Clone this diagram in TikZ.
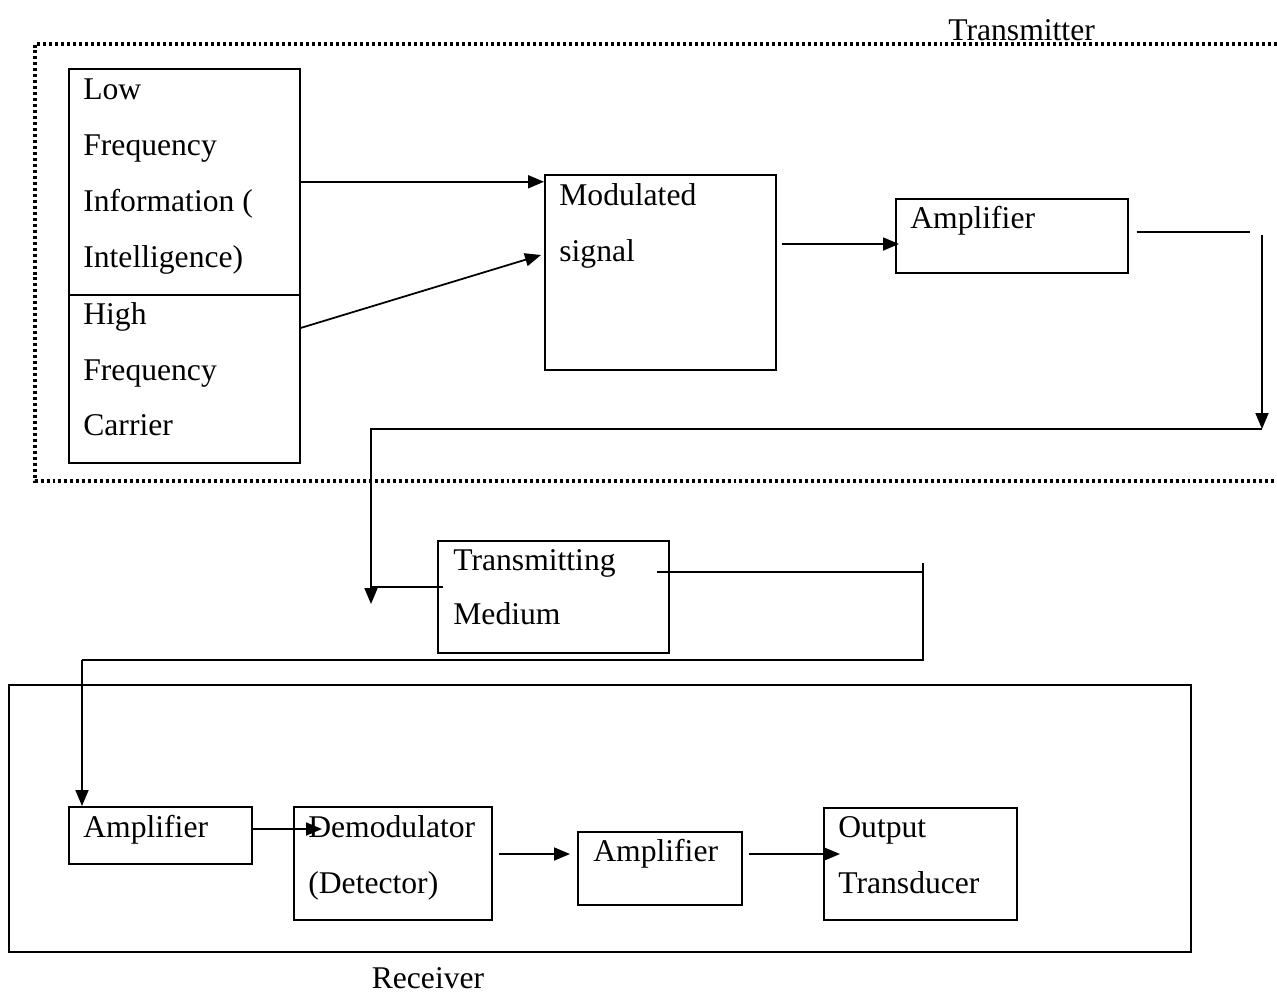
\documentclass[tikz,border=0pt]{standalone}
\usepackage{fontspec}
\setmainfont{Liberation Serif}
\usetikzlibrary{arrows.meta,calc}
\begin{document}
\begin{tikzpicture}[x=0.02cm,y=-0.02cm,
  blk/.style={draw,line width=0.9pt,rectangle,inner sep=0,anchor=north west},
  txt/.style={inner sep=0,anchor=base west,font=\fontsize{18}{22}\selectfont},
  wire/.style={line width=1pt},
  arr/.style={line width=1pt,-{Triangle[length=0.32cm,width=0.26cm]}},
  dotline/.style={line width=1.9pt,dash pattern=on 1.7pt off 1.7pt}]
\useasboundingbox (0,0) rectangle (1277,995);
% transmitter dotted frame
\coordinate (tTR) at (1277,44);
\coordinate (tTL) at (35,44);
\coordinate (tBL) at (35,481);
\coordinate (tBR) at (1277,481);
\draw[dotline] (tTR) -- (tTL) -- (tBL) -- (tBR);
\node[txt] (ttl) at (948,40) {Transmitter};
% blocks
\node[blk,minimum width=4.62cm,minimum height=4.52cm] (lf) at (68,68) {};
\node[blk,minimum width=4.62cm,minimum height=3.36cm] (hf) at (68,294) {};
\node[blk,minimum width=4.62cm,minimum height=3.90cm] (mod) at (544,174) {};
\node[blk,minimum width=4.64cm,minimum height=1.48cm] (amp1) at (895,198) {};
\node[blk,minimum width=4.62cm,minimum height=2.24cm] (med) at (437,540) {};
\node[blk,line width=1pt,minimum width=23.64cm,minimum height=5.34cm] (rx) at (8,684) {};
\node[blk,minimum width=3.66cm,minimum height=1.14cm] (amp2) at (68,806) {};
\node[blk,minimum width=3.96cm,minimum height=2.26cm] (demod) at (293,806) {};
\node[blk,minimum width=3.28cm,minimum height=1.46cm] (amp3) at (577,831) {};
\node[blk,minimum width=3.86cm,minimum height=2.24cm] (out) at (823,807) {};
% texts
\node[txt] (t1) at (83,99) {Low};
\node[txt] (t2) at (83,155) {Frequency};
\node[txt] (t3) at (83,211) {Information (};
\node[txt] (t4) at (83,267) {Intelligence)};
\node[txt] (t5) at (83,324) {High};
\node[txt] (t6) at (83,380) {Frequency};
\node[txt] (t7) at (83,435) {Carrier};
\node[txt] (t8) at (559,205) {Modulated};
\node[txt] (t9) at (559,261) {signal};
\node[txt] (t10) at (910,228) {Amplifier};
\node[txt] (t11) at (453,570) {Transmitting};
\node[txt] (t12) at (453,624) {Medium};
\node[txt] (t13) at (83,837) {Amplifier};
\node[txt] (t14) at (308,837) {Demodulator};
\node[txt] (t15) at (308,893) {(Detector)};
\node[txt] (t16) at (593,861) {Amplifier};
\node[txt] (t17) at (838,837) {Output};
\node[txt] (t18) at (838,893) {Transducer};
\node[txt,anchor=base] (rxl) at (428,988) {Receiver};
% connectors
\draw[arr] (lf.east) -- (lf.east -| mod.west);
\draw[arr] ($(hf.north east)+(0,34)$) -- ($(mod.north west)+(-3,81)$);
\draw[arr] ($(mod.north east)+(5,70)$) -- ($(amp1.north west)+(4,46)$);
\coordinate (a1) at (1250,232);
\coordinate (a2) at (1262,235);
\coordinate (a3) at (1262,429);
\coordinate (a4) at (371,429);
\coordinate (a5) at (371,604);
\coordinate (a6) at (371,587);
\draw[wire] ($(amp1.north east)+(8,34)$) -- (a1);
\draw[arr] (a2) -- (a3);
\draw[arr] (a3) -- (a4) -- (a5);
\draw[wire] ($(med.north west)+(6,47)$) -- (a6);
\coordinate (b1) at (923,572);
\coordinate (b0) at (923,563);
\coordinate (b2) at (923,660);
\coordinate (b3) at (82,660);
\draw[wire] ($(med.north east)+(-13,32)$) -- (b1);
\draw[wire] (b0) -- (b2) -- (b3);
\draw[arr] (b3) -- (amp2.north west -| b3);
\draw[arr] ($(amp2.north east)+(0,23)$) -- ($(demod.north west)+(29,23)$);
\draw[arr] ($(demod.north east)+(6,48)$) -- ($(amp3.north west)+(-7,23)$);
\draw[arr] ($(amp3.north east)+(6,23)$) -- ($(out.north west)+(17,47)$);
\end{tikzpicture}
\end{document}
